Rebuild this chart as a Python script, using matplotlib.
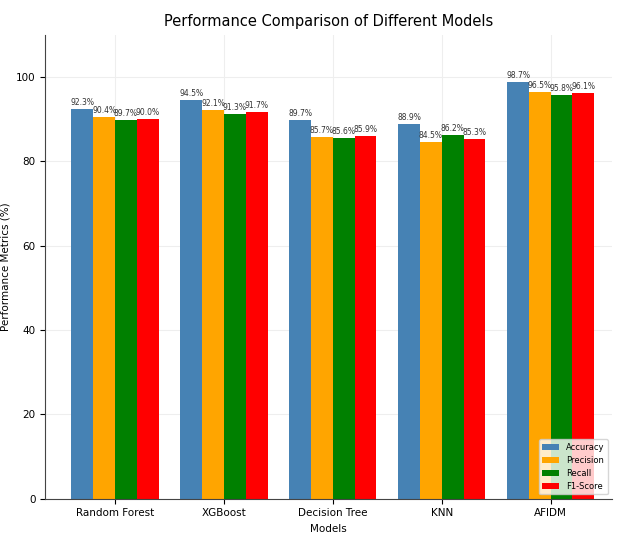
import matplotlib.pyplot as plt
import numpy as np

models = ['Random Forest', 'XGBoost', 'Decision Tree', 'KNN', 'AFIDM']
accuracy = [92.3, 94.5, 89.7, 88.9, 98.7]
precision = [90.4, 92.1, 85.7, 84.5, 96.5]
recall = [89.7, 91.3, 85.6, 86.2, 95.8]
f1_score = [90.0, 91.7, 85.9, 85.3, 96.1]

series = [('Accuracy', accuracy, 'steelblue'),
          ('Precision', precision, 'orange'),
          ('Recall', recall, 'green'),
          ('F1-Score', f1_score, 'red')]

x = np.arange(len(models))
w = 0.2

fig, ax = plt.subplots(figsize=(6.21, 5.35), dpi=100)
for i, (name, vals, color) in enumerate(series):
    bars = ax.bar(x + (i - 1.5) * w, vals, w, label=name, color=color)
    for b, v in zip(bars, vals):
        ax.text(b.get_x() + b.get_width() / 2, v + 0.5, f'{v:.1f}%',
                ha='center', va='bottom', fontsize=5.5, color='#333333')

ax.set_xticks(x)
ax.set_xticklabels(models, fontsize=7.5)
ax.tick_params(axis='y', labelsize=7.5)
ax.set_xlim(-0.64, 4.56)
ax.set_ylim(0, 110)
ax.set_xlabel('Models', fontsize=7.5)
ax.set_ylabel('Performance Metrics (%)', fontsize=7.5)
ax.set_title('Performance Comparison of Different Models', fontsize=10.5)
ax.grid(True, color='#eeeeee', linewidth=0.8)
ax.set_axisbelow(True)
for s in ['top', 'right']:
    ax.spines[s].set_visible(False)
ax.spines['left'].set_color('#444444')
ax.spines['bottom'].set_color('#444444')
ax.legend(loc='lower right', fontsize=6)

plt.subplots_adjust(left=0.073, right=0.985, top=0.935, bottom=0.068)
plt.savefig('out.png')
plt.close()
